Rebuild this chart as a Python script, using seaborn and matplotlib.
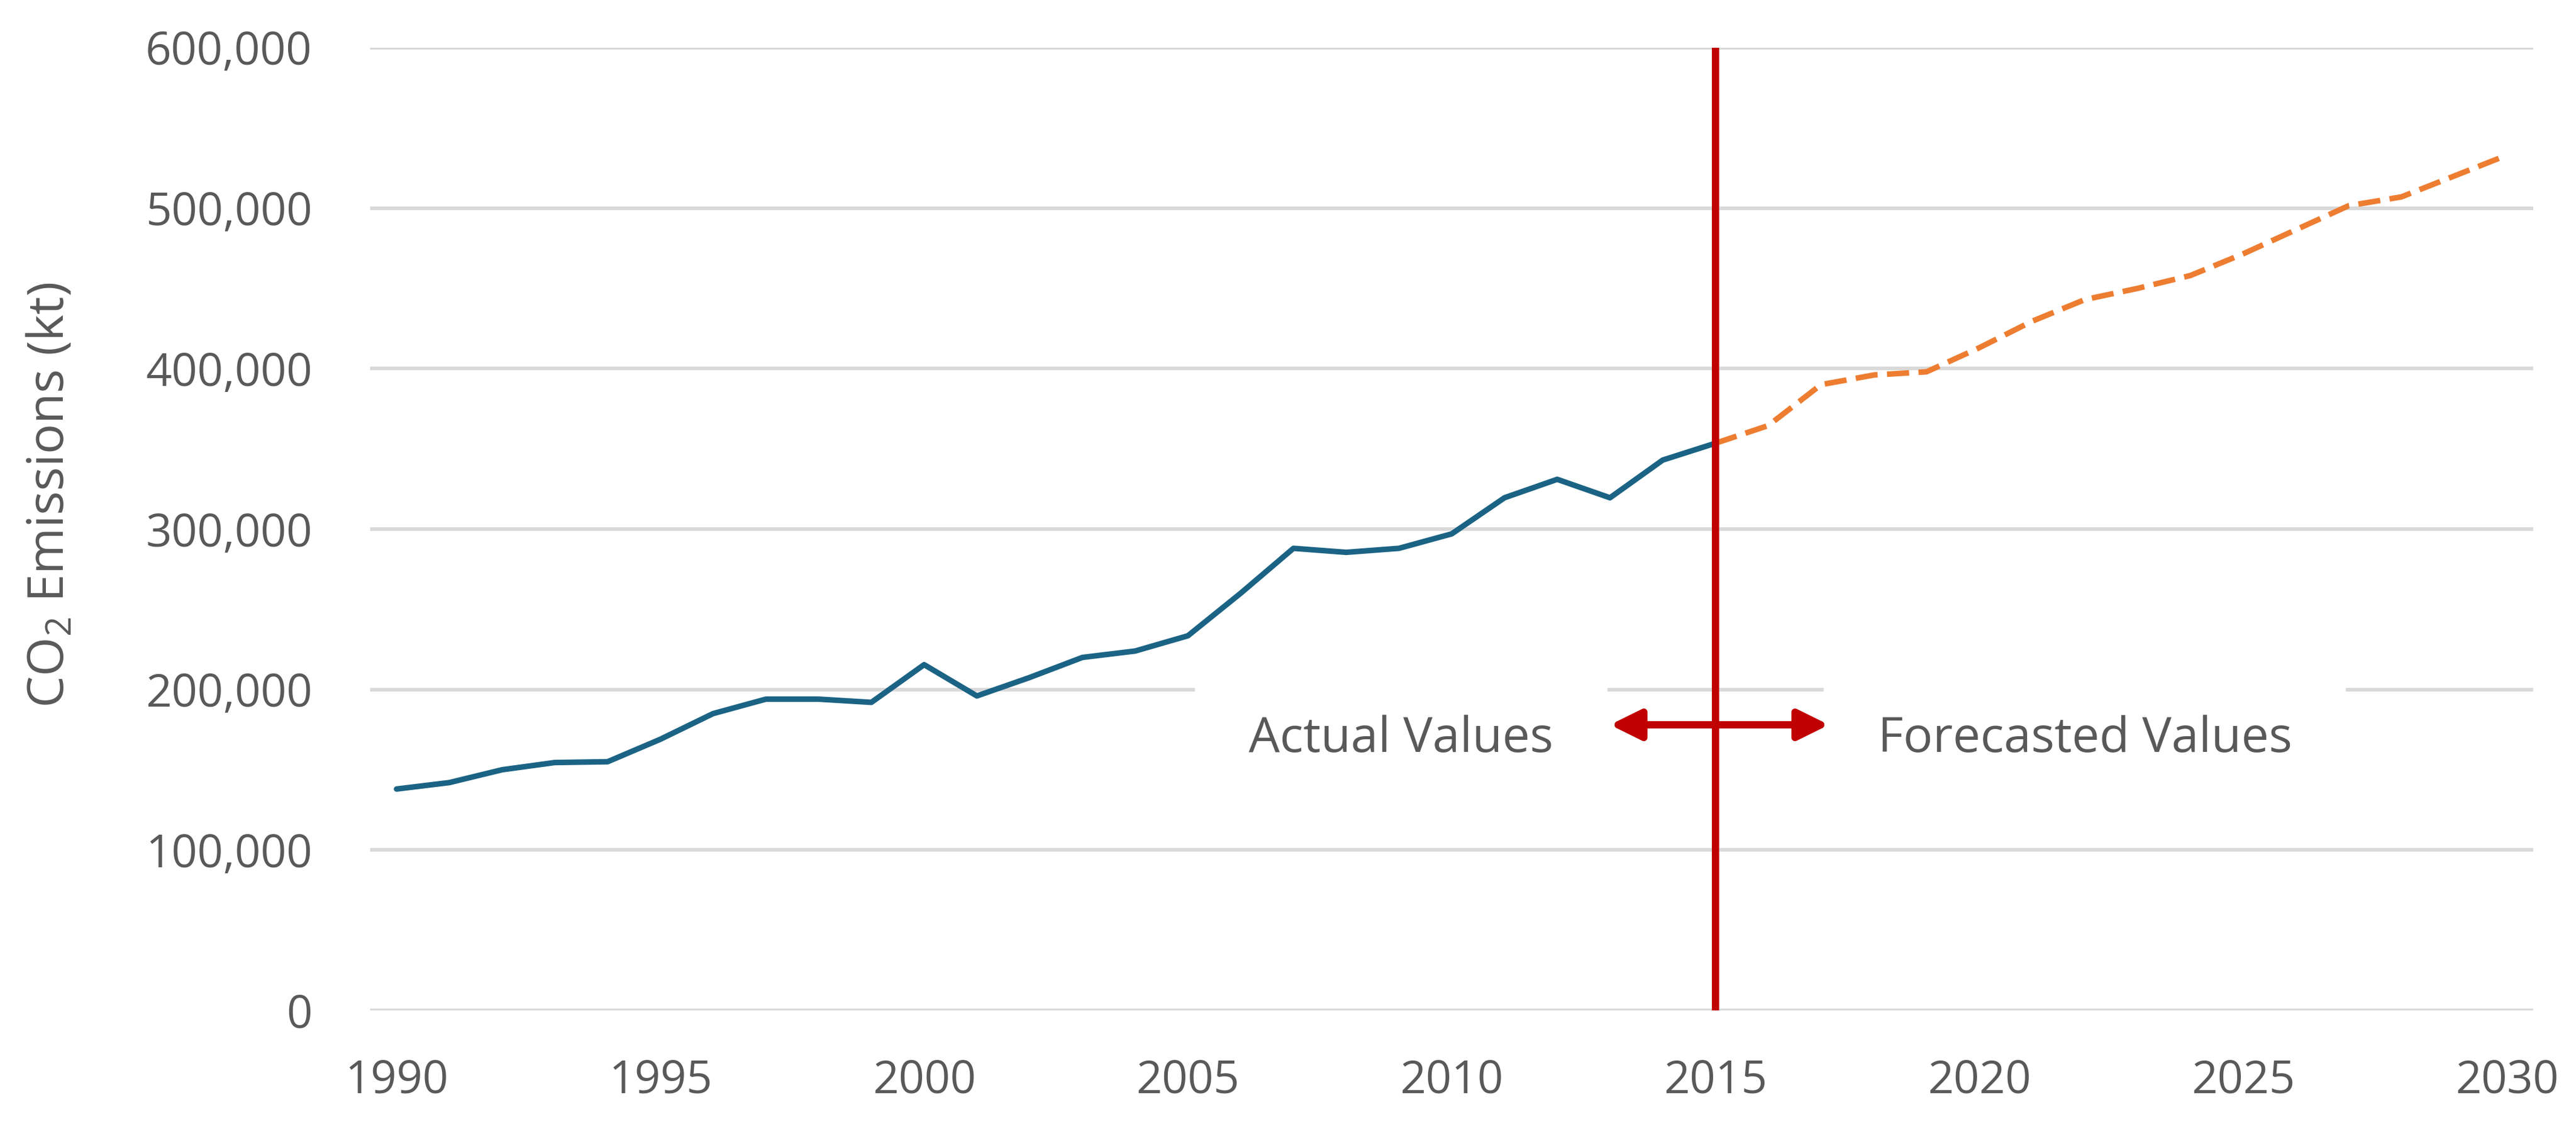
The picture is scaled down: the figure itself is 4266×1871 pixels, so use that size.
import numpy as np
import pandas as pd
import matplotlib
matplotlib.use('Agg')
import matplotlib.pyplot as plt
import seaborn as sns

# Values (kt of CO2)
actual_years = list(range(1990, 2016))
actual_values = [138000, 142000, 150000, 154500, 155000, 169000, 185000, 194000,
                 194000, 192000, 215500, 196000, 207500, 220000, 224000, 233500,
                 260000, 288000, 285500, 288000, 297000, 319500, 331000, 319500,
                 343000, 353500]

forecast_years = list(range(2015, 2031))
forecast_values = [353500, 364500, 390000, 396000, 398000, 413000, 429500, 443000,
                   450000, 458000, 471500, 486500, 501500, 507000, 520000, 533000]

y_ticks = [0, 100000, 200000, 300000, 400000, 500000, 600000]
x_ticks = [1990, 1995, 2000, 2005, 2010, 2015, 2020, 2025, 2030]
split_year = 2015

actual_df = pd.DataFrame({'year': actual_years, 'value': actual_values})
forecast_df = pd.DataFrame({'year': forecast_years, 'value': forecast_values})

sns.set_theme(style='white')
plt.rcParams['font.family'] = ['Open Sans', 'DejaVu Sans']
plt.rcParams['mathtext.fontset'] = 'custom'
plt.rcParams['mathtext.rm'] = 'Open Sans'
plt.rcParams['mathtext.it'] = 'Open Sans:italic'

text_grey = '#595959'
blue = '#1B6384'
orange = '#ED7D31'
red = '#C00000'

fig = plt.figure(figsize=(4266 / 300, 1871 / 300), dpi=300)
ax = fig.add_axes([0.1437, 0.1058, 0.8397, 0.852])

# Lines
sns.lineplot(data=actual_df, x='year', y='value', ax=ax, color=blue,
             linewidth=2.2, zorder=4)
sns.lineplot(data=forecast_df, x='year', y='value', ax=ax, color=orange,
             linewidth=2.2, zorder=4, dashes=False)
ax.lines[-1].set_dashes((4, 1.7))

# Split marker
ax.axvline(split_year, color=red, linewidth=2.9, zorder=6)
ax.annotate('', xy=(2013.0, 178000), xytext=(2017.15, 178000),
            arrowprops=dict(arrowstyle='<|-|>,head_length=0.85,head_width=0.42',
                            color=red, lw=2.9, shrinkA=0, shrinkB=0,
                            mutation_scale=12),
            zorder=6)

box = dict(boxstyle='square,pad=1.1', facecolor='white', edgecolor='none')
ax.text(2009.04, 169000, 'Actual Values', fontsize=19.5, color=text_grey,
        ha='center', va='center', bbox=box, zorder=3)
ax.text(2022.0, 169000, 'Forecasted Values', fontsize=19.5, color=text_grey,
        ha='center', va='center', bbox=box, zorder=3)

# Axes styling
ax.set_xlim(1989.5, 2030.5)
ax.set_ylim(0, 600000)
ax.set_xticks(x_ticks)
ax.set_yticks(y_ticks)
ax.set_yticklabels([f'{v:,}' for v in y_ticks])
ax.yaxis.grid(True, color='#D9D9D9', linewidth=1.45)
ax.xaxis.grid(False)
ax.set_axisbelow(True)
for s in ax.spines.values():
    s.set_visible(False)
ax.tick_params(axis='y', length=0, pad=23, labelsize=18, labelcolor=text_grey)
ax.tick_params(axis='x', length=0, pad=19, labelsize=18, labelcolor=text_grey)

ax.set_xlabel('')
ax.set_ylabel(r'CO$_\mathregular{2}$ Emissions (kt)', fontsize=20, color=text_grey)
ax.yaxis.set_label_coords(-0.136, 0.535)

fig.savefig('out.png', dpi=300, facecolor='white')
